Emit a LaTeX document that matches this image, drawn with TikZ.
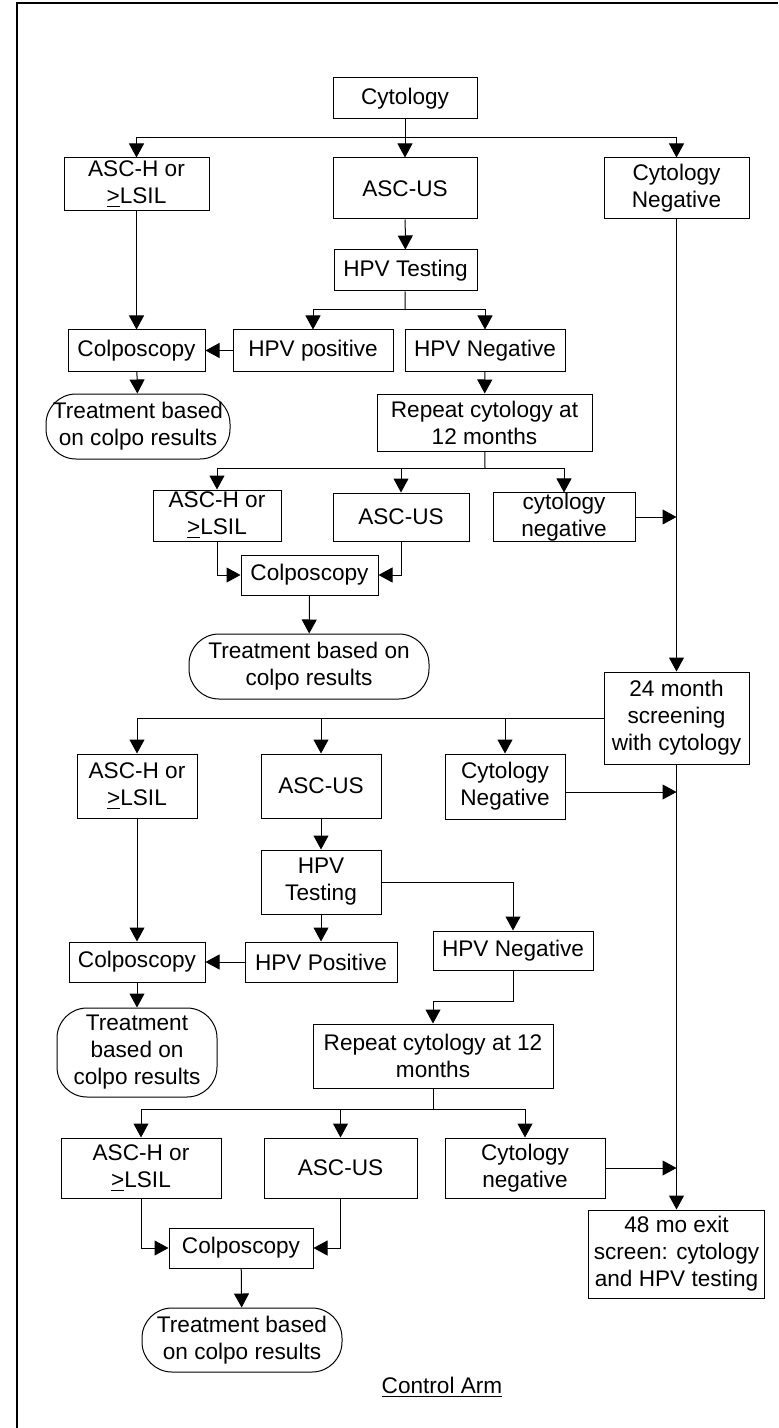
\documentclass[tikz,border=0pt]{standalone}
\usepackage{fontspec}
\setmainfont{Liberation Sans}
\usetikzlibrary{arrows.meta}

\begin{document}
\begin{tikzpicture}[x=0.5pt,y=-0.5pt,line width=0.5pt]

\tikzset{>={Triangle[length=7pt,width=7.5pt]}}
\tikzset{box/.style={draw, align=center, inner sep=0pt, font=\fontsize{11.3pt}{13.5pt}\selectfont}}
\tikzset{treat/.style={box, rounded corners=15pt}}
\tikzset{sz/.style 2 args={minimum width=#1*0.5pt, minimum height=#2*0.5pt}}
\def\trunkX{676.5}

\useasboundingbox (0,0) rectangle (778,1428);
\draw[line width=1pt] (17,1428) -- (17,3) -- (778,3);

% first screen
\draw (405,98.5) node[box,sz={144}{41}](cyto) {Cytology};
\draw (136.5,184.5) node[box,sz={145}{53}](aschA) {ASC-H or\\\underline{>}LSIL};
\draw (405,188.5) node[box,sz={144}{61}](ascusA) {ASC-US};
\draw (676.5,188.5) node[box,sz={145}{61}](cytnegA) {Cytology\\Negative};
\draw (405.5,270.5) node[box,sz={143}{41}](hpvA) {HPV Testing};
\draw (136.5,350.5) node[box,sz={137}{41}](colpoA) {Colposcopy};
\draw (313,350.5) node[box,sz={160}{41}](hpvposA) {HPV positive};
\draw (485,350.5) node[box,sz={160}{41}](hpvnegA) {HPV Negative};
\draw (138,426.5) node[treat,sz={184}{65}](treatA) {Treatment based\\on colpo results};
\draw (484.5,422.5) node[box,sz={215}{57}](repeatA) {Repeat cytology at\\12 months};

\coordinate (splitA) at (405,138);
\coordinate (splitB) at (405,310);
\draw[->] (cyto) -- (ascusA);
\draw[->] (splitA) -| (aschA);
\draw[->] (splitA) -| (cytnegA);
\draw[->] (ascusA) -- (hpvA);
\draw (hpvA) -- (splitB);
\draw[->] (splitB) -| (hpvposA);
\draw[->] (splitB) -| (hpvnegA);
\draw[->] (hpvposA) -- (colpoA);
\draw[->] (aschA) -- (colpoA);
\draw[->] (colpoA) -- (treatA);
\draw[->] (hpvnegA) -- (repeatA);

% repeat after 12 months
\draw (217,515.5) node[box,sz={128}{51}](aschB) {ASC-H or\\\underline{>}LSIL};
\draw (401,517) node[box,sz={136}{48}](ascusB) {ASC-US};
\draw (564,517) node[box,sz={142}{48}](cytnegB) {cytology\\negative};
\draw (309.5,575) node[box,sz={137}{40}](colpoB) {Colposcopy};
\draw (309,666.5) node[treat,sz={240}{65}](treatB) {Treatment based on\\colpo results};

\coordinate (splitC) at (485,468);
\coordinate (joinA) at (\trunkX,517);
\draw (repeatA) -- (splitC);
\draw[->] (splitC) -| (aschB);
\draw[->] (splitC) -| (ascusB);
\draw[->] (splitC) -| (cytnegB);
\draw[->] (aschB) |- (colpoB);
\draw[->] (ascusB) |- (colpoB);
\draw[->] (colpoB) -- (treatB);
\draw[->] (cytnegB) -- (joinA);

% 24 month screen
\draw (676.5,718) node[box,sz={145}{92}](month24) {24 month\\screening\\with cytology};
\draw (137,786) node[box,sz={120}{64}](aschC) {ASC-H or\\\underline{>}LSIL};
\draw (321,786) node[box,sz={120}{64}](ascusC) {ASC-US};
\draw (505,786.5) node[box,sz={120}{65}](cytnegC) {Cytology\\Negative};
\draw (321,882) node[box,sz={120}{64}](hpvB) {HPV\\Testing};
\draw (137,962) node[box,sz={136}{40}](colpoC) {Colposcopy};
\draw (321,962) node[box,sz={152}{40}](hpvposB) {HPV Positive};
\draw (513,950.5) node[box,sz={160}{39}](hpvnegB) {HPV Negative};
\draw (137,1052.5) node[treat,sz={160}{89}](treatC) {Treatment\\based on\\colpo results};
\draw (433,1056) node[box,sz={240}{64}](repeatB) {Repeat cytology at 12\\months};

\coordinate (joinB) at (\trunkX,792);
\coordinate (jogB) at (513,1001);
\draw[->] (cytnegA) -- (month24);
\draw[->] (month24.west) -| (aschC);
\draw[->] (ascusC |- month24.west) -- (ascusC);
\draw[->] (cytnegC |- month24.west) -- (cytnegC);
\draw[->] (cytnegC.east |- joinB) -- (joinB);
\draw[->] (ascusC) -- (hpvB);
\draw[->] (hpvB) -- (hpvposB);
\draw[->] (hpvB.east) -| (hpvnegB);
\draw[->] (hpvposB) -- (colpoC);
\draw[->] (aschC) -- (colpoC);
\draw[->] (colpoC) -- (treatC);
\draw[->] (hpvnegB) -- (jogB) -| (repeatB);

% repeat after 12 months, then exit
\draw (141,1168) node[box,sz={160}{60}](aschD) {ASC-H or\\\underline{>}LSIL};
\draw (340.5,1168) node[box,sz={153}{60}](ascusD) {ASC-US};
\draw (525,1168) node[box,sz={160}{60}](cytnegD) {Cytology\\negative};
\draw (676.5,1254) node[box,sz={176}{88}](month48) {48 mo exit\\screen: cytology\\and HPV testing};
\draw (241,1248) node[box,sz={144}{40}](colpoD) {Colposcopy};
\draw (242,1340) node[treat,sz={200}{64}](treatD) {Treatment based\\on colpo results};

\coordinate (splitD) at (433,1109);
\coordinate (joinC) at (\trunkX,1168);
\draw (repeatB) -- (splitD);
\draw[->] (splitD) -| (aschD);
\draw[->] (splitD) -| (ascusD);
\draw[->] (splitD) -| (cytnegD);
\draw[->] (aschD) |- (colpoD);
\draw[->] (ascusD) |- (colpoD);
\draw[->] (colpoD) -- (treatD);
\draw[->] (cytnegD) -- (joinC);
\draw[->] (month24) -- (month48);

\draw (442,1387) node[font=\fontsize{11.3pt}{13.5pt}\selectfont](armlabel) {\underline{Control Arm}};

\end{tikzpicture}
\end{document}
